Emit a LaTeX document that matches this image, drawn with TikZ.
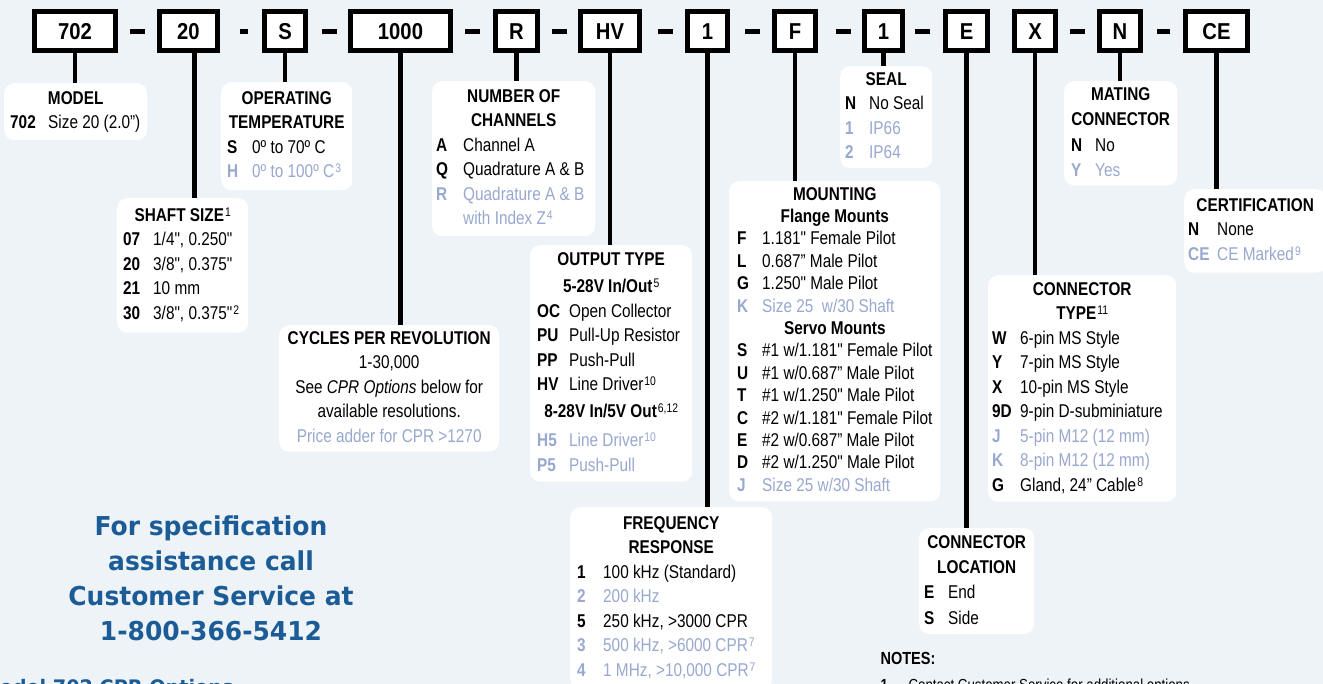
\documentclass[tikz,border=0pt]{standalone}
\usepackage{fontspec}
\usepackage{array}
\setmainfont{Liberation Sans}[FakeStretch=0.83,Ligatures=TeXOff]
\newfontfamily\boxfont{Liberation Sans}[FakeStretch=0.88]
\newfontfamily\callfont{DejaVu Sans}[FakeStretch=0.96]
\definecolor{paleblue}{RGB}{238,243,248}
\definecolor{optgray}{RGB}{152,168,206}
\definecolor{callblue}{RGB}{28,92,150}
\newcommand\panelfont{\fontsize{18.5}{24.5}\selectfont}
\newcommand\mountfont{\fontsize{18.5}{22.4}\selectfont}
\newcommand\widefont{\fontsize{18.5}{25.3}\selectfont}
\newcommand\fnote[1]{\kern1pt\smash{\raisebox{5pt}{\fontsize{12.5}{12.5}\selectfont\mdseries #1}}}
\newcommand\ttl[2]{\multicolumn{2}{@{}c@{}}{\makebox[#1]{\bfseries #2}}}
\newcommand\grey[2]{\leavevmode\color{optgray}#1 & \color{optgray}#2}

\begin{document}
\begin{tikzpicture}[x=1pt,y=-1pt,
    codebox/.style={draw,line width=5pt,fill=white,minimum height=39pt,minimum width=41.5pt,
      inner sep=0pt,font=\boxfont\fontsize{23}{23}\selectfont\bfseries},
    panel/.style={fill=white,rounded corners=10pt,anchor=north west,inner sep=0pt,font=\panelfont},
    link/.style={line width=4.5pt},
    hyph/.style={line width=5pt}]
  \useasboundingbox (0,0) rectangle (1323,684);
  \fill[paleblue] (0,0) rectangle (1323,684);

  \node[codebox,minimum width=81.5pt] (b702) at (75,31.3) {702};
  \node[codebox,minimum width=58.5pt] (b20) at (188.5,31.3) {20};
  \node[codebox] (bS) at (285,31.3) {S};
  \node[codebox,minimum width=100.5pt] (b1000) at (400.5,31.3) {1000};
  \node[codebox] (bR) at (516.5,31.3) {R};
  \node[codebox,minimum width=59.5pt] (bHV) at (610,31.3) {HV};
  \node[codebox,minimum width=40.5pt] (bFreq) at (707.5,31.3) {1};
  \node[codebox] (bF) at (795,31.3) {F};
  \node[codebox,minimum width=38.5pt] (bSeal) at (883.5,31.3) {1};
  \node[codebox] (bE) at (966.5,31.3) {E};
  \node[codebox] (bX) at (1035,31.3) {X};
  \node[codebox] (bN) at (1120,31.3) {N};
  \node[codebox,minimum width=62.5pt] (bCE) at (1216.5,31.3) {CE};
  \foreach \x in {137.5,329.5,472.5,559.5,665,752.5,843.5,922.5,1077.5}
    \draw[hyph] (\x-7.5,31.3) -- (\x+7.5,31.3);
  \draw[hyph] (240,31.3) -- (248,31.3);
  \draw[hyph] (1157,31.3) -- (1170,31.3);

  \node[panel,inner xsep=6pt,inner ysep=4pt,minimum width=143pt] (model) at (4,83)
    {\begin{tabular}{@{}>{\bfseries}p{38pt}@{}l@{}}
      \ttl{131pt}{MODEL}\\
      702 & Size 20 (2.0”)
    \end{tabular}};
  \node[panel,inner xsep=6pt,inner ysep=5pt,minimum width=131pt] (temp) at (221,82)
    {\begin{tabular}{@{}>{\bfseries}p{25pt}@{}l@{}}
      \ttl{119pt}{OPERATING}\\
      \ttl{119pt}{TEMPERATURE}\\
      S & 0º to 70º C\\
      \grey{H}{0º to 100º C\fnote{3}}
    \end{tabular}};
  \node[panel,inner xsep=6pt,inner ysep=6pt,minimum width=131pt] (shaft) at (117,198)
    {\begin{tabular}{@{}>{\bfseries}p{30pt}@{}l@{}}
      \ttl{119pt}{SHAFT SIZE\fnote{1}}\\
      07 & 1/4", 0.250"\\
      20 & 3/8", 0.375"\\
      21 & 10 mm\\
      30 & 3/8", 0.375"\fnote{2}
    \end{tabular}};
  \node[panel,inner xsep=4pt,inner ysep=4pt,minimum width=163pt] (chan) at (432,81)
    {\begin{tabular}{@{}>{\bfseries}p{27pt}@{}l@{}}
      \ttl{155pt}{NUMBER OF}\\
      \ttl{155pt}{CHANNELS}\\
      A & Channel A\\
      Q & Quadrature A \& B\\
      \grey{R}{Quadrature A \& B}\\
      \grey{}{with Index Z\fnote{4}}
    \end{tabular}};
  \node[panel,inner xsep=6pt,inner ysep=2pt,minimum width=220pt] (cpr) at (279,325)
    {\begin{tabular}{@{}c@{}}
      \bfseries CYCLES PER REVOLUTION\\
      1-30,000\\
      See \textit{CPR Options} below for\\
      available resolutions.\\
      \color{optgray}Price adder for CPR >1270
    \end{tabular}};
  \node[panel,inner xsep=7pt,inner ysep=3pt,minimum width=162pt] (output) at (530,245)
    {\begin{tabular}{@{}>{\bfseries}p{32pt}@{}l@{}}
      \ttl{148pt}{OUTPUT TYPE}\\[2.5pt]
      \ttl{148pt}{5-28V In/Out\fnote{5}}\\[0.5pt]
      OC & Open Collector\\
      PU & Pull-Up Resistor\\
      PP & Push-Pull\\
      HV & Line Driver\fnote{10}\\[2.5pt]
      \ttl{148pt}{8-28V In/5V Out\fnote{6,12}}\\[4.5pt]
      \grey{H5}{Line Driver\fnote{10}}\\
      \grey{P5}{Push-Pull}
    \end{tabular}};
  \node[panel,inner xsep=5pt,inner ysep=2pt,minimum width=92pt] (seal) at (840,66)
    {\begin{tabular}{@{}>{\bfseries}p{24pt}@{}l@{}}
      \ttl{82pt}{SEAL}\\
      N & No Seal\\
      \grey{1}{IP66}\\
      \grey{2}{IP64}
    \end{tabular}};
  \node[panel,font=\mountfont,inner xsep=8pt,inner ysep=3.3pt,minimum width=210pt] (mount) at (729,181)
    {\begin{tabular}{@{}>{\bfseries}p{25pt}@{}l@{}}
      \ttl{194pt}{MOUNTING}\\
      \ttl{194pt}{Flange Mounts}\\
      F & 1.181" Female Pilot\\
      L & 0.687” Male Pilot\\
      G & 1.250" Male Pilot\\
      \grey{K}{Size 25\ \ w/30 Shaft}\\
      \ttl{194pt}{Servo Mounts}\\
      S & \#1 w/1.181" Female Pilot\\
      U & \#1 w/0.687” Male Pilot\\
      T & \#1 w/1.250" Male Pilot\\
      C & \#2 w/1.181" Female Pilot\\
      E & \#2 w/0.687” Male Pilot\\
      D & \#2 w/1.250" Male Pilot\\
      \grey{J}{Size 25 w/30 Shaft}
    \end{tabular}};
  \node[panel,font=\widefont,inner xsep=7pt,inner ysep=1.5pt,minimum width=113pt] (mating) at (1064,81)
    {\begin{tabular}{@{}>{\bfseries}p{24pt}@{}l@{}}
      \ttl{99pt}{MATING}\\
      \ttl{99pt}{CONNECTOR}\\
      N & No\\
      \grey{Y}{Yes}
    \end{tabular}};
  \node[panel,inner xsep=4pt,inner ysep=5pt,minimum width=142pt] (cert) at (1184,189)
    {\begin{tabular}{@{}>{\bfseries}p{29pt}@{}l@{}}
      \ttl{134pt}{CERTIFICATION}\\
      N & None\\
      \grey{CE}{CE Marked\fnote{9}}
    \end{tabular}};
  \node[panel,inner xsep=4pt,inner ysep=3pt,minimum width=188pt] (conn) at (988,275)
    {\begin{tabular}{@{}>{\bfseries}p{28pt}@{}l@{}}
      \ttl{180pt}{CONNECTOR}\\
      \ttl{180pt}{TYPE\fnote{11}}\\
      W & 6-pin MS Style\\
      Y & 7-pin MS Style\\
      X & 10-pin MS Style\\
      9D & 9-pin D-subminiature\\
      \grey{J}{5-pin M12 (12 mm)}\\
      \grey{K}{8-pin M12 (12 mm)}\\
      G & Gland, 24” Cable\fnote{8}
    \end{tabular}};
  \node[panel,inner xsep=7pt,inner ysep=5pt,minimum width=202pt] (freq) at (570,507)
    {\begin{tabular}{@{}>{\bfseries}p{26pt}@{}l@{}}
      \ttl{188pt}{FREQUENCY}\\
      \ttl{188pt}{RESPONSE}\\
      1 & 100 kHz (Standard)\\
      \grey{2}{200 kHz}\\
      5 & 250 kHz, >3000 CPR\\
      \grey{3}{500 kHz, >6000 CPR\fnote{7}}\\
      \grey{4}{1 MHz, >10,000 CPR\fnote{7}}
    \end{tabular}};
  \node[panel,font=\widefont,inner xsep=5pt,inner ysep=2.3pt,minimum width=115pt] (loc) at (919,528)
    {\begin{tabular}{@{}>{\bfseries}p{24pt}@{}l@{}}
      \ttl{105pt}{CONNECTOR}\\
      \ttl{105pt}{LOCATION}\\
      E & End\\
      S & Side
    \end{tabular}};

  \coordinate (l20) at ([xshift=6pt]b20.south);
  \draw[link] (b702.south) -- (b702.south |- model.north);
  \draw[link] (l20) -- (l20 |- shaft.north);
  \draw[link] (bS.south) -- (bS.south |- temp.north);
  \draw[link] (b1000.south) -- (b1000.south |- cpr.north);
  \draw[link] (bR.south) -- (bR.south |- chan.north);
  \draw[link] (bHV.south) -- (bHV.south |- output.north);
  \draw[link] (bFreq.south) -- (bFreq.south |- freq.north);
  \draw[link] (bF.south) -- (bF.south |- mount.north);
  \draw[link] (bSeal.south) -- (bSeal.south |- seal.north);
  \draw[link] (bE.south) -- (bE.south |- loc.north);
  \draw[link] (bX.south) -- (bX.south |- conn.north);
  \draw[link] (bN.south) -- (bN.south |- mating.north);
  \draw[link] (bCE.south) -- (bCE.south |- cert.north);

  \node[font=\callfont\fontsize{26}{35}\selectfont\bfseries,text=callblue,align=center,anchor=base] (callus)
    at (211,640) {For specification\\assistance call\\Customer Service at\\1-800-366-5412};
  \node[font=\callfont\fontsize{20}{24}\selectfont\bfseries,text=callblue,anchor=base east] (cproptions)
    at (237,694) {Model 702 CPR Options};
  \node[font=\fontsize{17.5}{20}\selectfont\bfseries,anchor=base west] (notes) at (877,664) {NOTES:};
  \node[font=\fontsize{16}{20}\selectfont,anchor=base west] (note1) at (877,690)
    {\makebox[28pt][l]{\bfseries 1}Contact Customer Service for additional options.};
\end{tikzpicture}
\end{document}
